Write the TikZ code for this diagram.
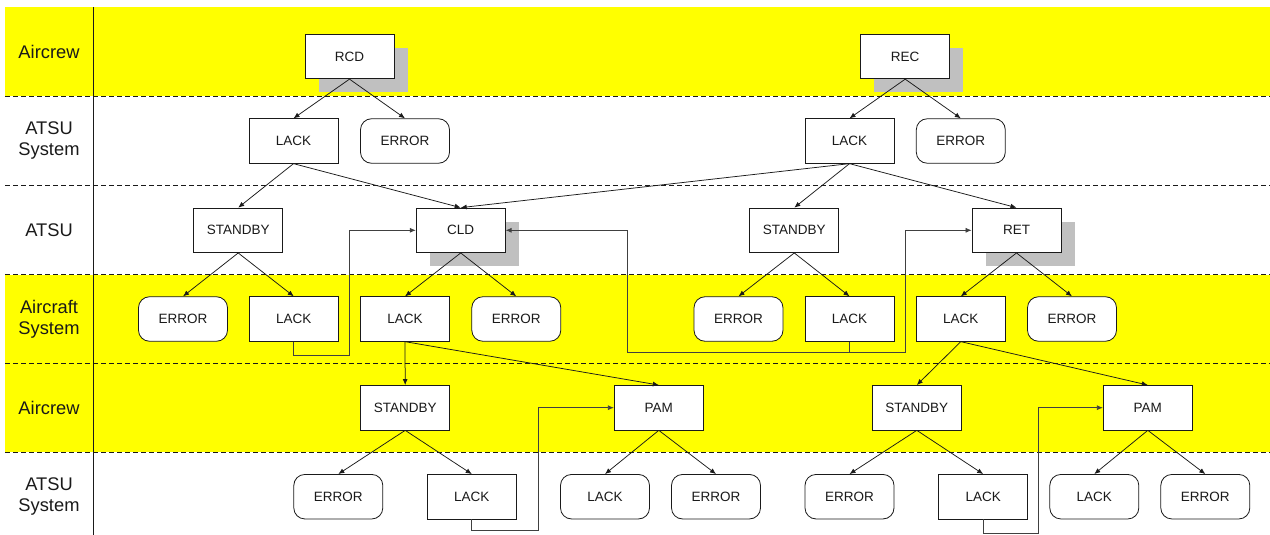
\documentclass[tikz,border=0pt]{standalone}
\usepackage{fontspec}
\setmainfont{Liberation Sans}
\usetikzlibrary{arrows.meta,shadows}
\definecolor{laneyellow}{HTML}{FFFF00}
\definecolor{shadowgray}{HTML}{C0C0C0}
\definecolor{inkc}{HTML}{1A1A1A}
\begin{document}
\begin{tikzpicture}[x=1pt,y=-1pt,
  box/.style={draw=inkc,line width=0.8pt,fill=white,minimum width=89pt,minimum height=44.5pt,inner sep=0pt,font=\fontsize{13.5pt}{15pt}\selectfont,text=inkc},
  rbox/.style={box,rounded corners=11pt},
  shbox/.style={box,drop shadow={shadow xshift=13.5pt,shadow yshift=-13.5pt,opacity=1,fill=shadowgray,draw=none}},
  lanelabel/.style={align=center,font=\fontsize{18.3pt}{21pt}\selectfont,text=inkc,inner sep=0pt},
  lanesep/.style={draw=inkc,line width=0.9pt,dash pattern=on 5pt off 3pt},
  arr/.style={draw=inkc,line width=0.75pt,-{Latex[length=6pt,width=5pt]}},
  elbow/.style={arr,draw=black!75}
]
\useasboundingbox (0,0) rectangle (1270,535);
% lanes
\fill[laneyellow] (5,7.5) rectangle (1270,96.5);
\fill[laneyellow] (5,274.5) rectangle (1270,452);
\foreach \yy in {96.5,185.5,274.5,363.5,452}
  \draw[lanesep] (5,\yy) -- (1270,\yy);
\draw[inkc,line width=1pt] (93.7,7.5) -- (93.7,535);
% lane labels
\node[lanelabel] (lab1) at (49,52) {Aircrew};
\node[lanelabel] (lab2) at (49,141) {ATSU\\System};
\node[lanelabel] (lab3) at (49,230) {ATSU};
\node[lanelabel] (lab4) at (49,319) {Aircraft\\System};
\node[lanelabel] (lab5) at (49,408) {Aircrew};
\node[lanelabel] (lab6) at (49,496.5) {ATSU\\System};
% row 1
\node[shbox] (rcd) at (349.5,56.5) {RCD};
\node[shbox] (rec) at (905.2,56.5) {REC};
% row 2
\node[box]  (lackA) at (293.5,141) {LACK};
\node[rbox] (errA)  at (405,141) {ERROR};
\node[box]  (lackB) at (849.5,141) {LACK};
\node[rbox] (errB)  at (960.8,141) {ERROR};
% row 3
\node[box]   (sbyA) at (238.2,230.3) {STANDBY};
\node[shbox] (cld)  at (460.7,230.3) {CLD};
\node[box]   (sbyB) at (794.3,230.3) {STANDBY};
\node[shbox] (ret)  at (1016.5,230.3) {RET};
% row 4
\node[rbox] (errC)  at (183,319) {ERROR};
\node[box]  (lackC) at (293.8,319) {LACK};
\node[box]  (lackD) at (405,319) {LACK};
\node[rbox] (errD)  at (516.3,319) {ERROR};
\node[rbox] (errE)  at (738.5,319) {ERROR};
\node[box]  (lackE) at (849.5,319) {LACK};
\node[box]  (lackF) at (960.8,319) {LACK};
\node[rbox] (errF)  at (1072,319) {ERROR};
% row 5
\node[box] (sbyC) at (405.2,407.7) {STANDBY};
\node[box] (pamA) at (658.8,407.7) {PAM};
\node[box] (sbyD) at (916.8,407.7) {STANDBY};
\node[box] (pamB) at (1147.8,407.7) {PAM};
% row 6
\node[rbox] (errG)  at (338.3,496.7) {ERROR};
\node[box]  (lackG) at (471.8,496.7) {LACK};
\node[rbox] (lackH) at (605,496.7) {LACK};
\node[rbox] (errH)  at (716,496.7) {ERROR};
\node[rbox] (errI)  at (849.5,496.7) {ERROR};
\node[box]  (lackI) at (983.2,496.7) {LACK};
\node[rbox] (lackJ) at (1094.3,496.7) {LACK};
\node[rbox] (errJ)  at (1205.3,496.7) {ERROR};
% tree connectors
\foreach \p/\c in {rcd/lackA,rcd/errA,rec/lackB,rec/errB,
  lackA/sbyA,lackA/cld,lackB/cld,lackB/sbyB,lackB/ret,
  sbyA/errC,sbyA/lackC,cld/lackD,cld/errD,sbyB/errE,sbyB/lackE,ret/lackF,ret/errF,
  lackD/sbyC,lackD/pamA,lackF/sbyD,lackF/pamB,
  sbyC/errG,sbyC/lackG,pamA/lackH,pamA/errH,sbyD/errI,sbyD/lackI,pamB/lackJ,pamB/errJ}
  \draw[arr] (\p.south) -- (\c.north);
% elbow connectors
\draw[elbow] (lackC.south) -- ++(0,13.3) -| ([xshift=-66pt]cld.west) -- (cld.west);
\draw[elbow] (lackE.south) -- ++(0,11) -| ([xshift=122pt]cld.east) -- (cld.east);
\draw[elbow] (lackE.south) -- ++(0,11) -| ([xshift=-66.5pt]ret.west) -- (ret.west);
\draw[elbow] (lackG.south) -- ++(0,11) -| ([xshift=-75.5pt]pamA.west) -- (pamA.west);
\draw[elbow] (lackI.south) -- ++(0,13.7) -| ([xshift=-64.6pt]pamB.west) -- (pamB.west);
\end{tikzpicture}
\end{document}
